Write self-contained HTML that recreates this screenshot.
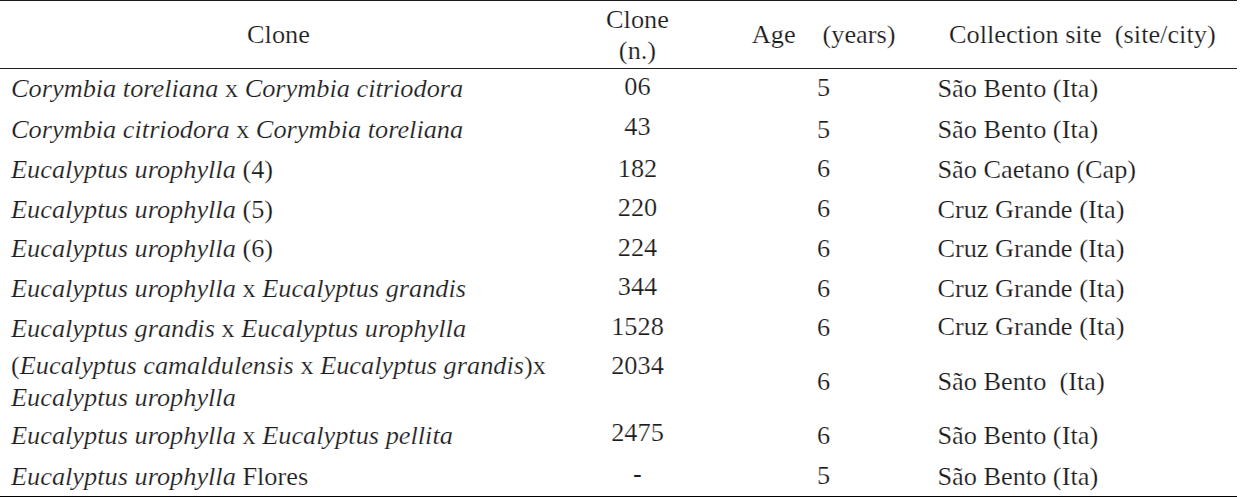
<!DOCTYPE html>
<html lang="en">
<head>
<meta charset="utf-8">
<title>Clones table</title>
<style>
html,body{margin:0;padding:0;background:#fff;}
#t{position:relative;width:1240px;height:497px;overflow:hidden;background:#fff;font-family:"Liberation Serif","Times New Roman",serif;font-size:26.32px;line-height:normal;color:#1c1c1c;-webkit-text-stroke:0.2px #fff;}
#t span{position:absolute;white-space:nowrap;transform-origin:0 23.45px;transform:scaleY(0.93);}
#t span.c{transform:translateX(-50%) scaleY(0.93);}
#t span.n{transform:translateX(-50%);}
#t div.ln{position:absolute;left:0;width:1237px;}
</style>
</head>
<body>
<div id="t">
<div class="ln" style="top:0px;height:1px;background:#1a1a1a"></div>
<div class="ln" style="top:68px;height:1px;background:#222"></div>
<div class="ln" style="top:496px;height:1px;background:#000"></div>
<span class="c" style="left:278.5px;top:19.55px">Clone</span>
<span class="c" style="left:637.5px;top:5.05px">Clone</span>
<span class="c" style="left:637.5px;top:35.85px">(n.)</span>
<span style="left:751.8px;top:19.55px">Age</span>
<span style="left:822.5px;top:19.55px">(years)</span>
<span class="c" style="left:1082.3px;top:19.55px">Collection site&nbsp; (site/city)</span>
<span style="left:11px;top:74.35px"><i>Corymbia toreliana</i> x <i>Corymbia citriodora</i></span>
<span class="c" style="left:637.5px;top:72.05px">06</span>
<span class="c" style="left:823.5px;top:73.45px">5</span>
<span style="left:937.4px;top:74.25px">São Bento (Ita)</span>
<span style="left:11px;top:115.25px"><i>Corymbia citriodora</i> x <i>Corymbia toreliana</i></span>
<span class="c" style="left:637.5px;top:111.95px">43</span>
<span class="c" style="left:823.5px;top:114.55px">5</span>
<span style="left:937.4px;top:114.95px">São Bento (Ita)</span>
<span style="left:11px;top:154.55px"><i>Eucalyptus urophylla</i> (4)</span>
<span class="c" style="left:637.5px;top:153.55px">182</span>
<span class="c" style="left:823.5px;top:154.15px">6</span>
<span style="left:937.4px;top:154.55px">São Caetano (Cap)</span>
<span style="left:11px;top:194.95px"><i>Eucalyptus urophylla</i> (5)</span>
<span class="c" style="left:637.5px;top:192.55px">220</span>
<span class="c" style="left:823.5px;top:194.15px">6</span>
<span style="left:937.4px;top:194.55px">Cruz Grande (Ita)</span>
<span style="left:11px;top:233.95px"><i>Eucalyptus urophylla</i> (6)</span>
<span class="c" style="left:637.5px;top:232.55px">224</span>
<span class="c" style="left:823.5px;top:233.55px">6</span>
<span style="left:937.4px;top:233.55px">Cruz Grande (Ita)</span>
<span style="left:11px;top:273.95px"><i>Eucalyptus urophylla</i> x <i>Eucalyptus grandis</i></span>
<span class="c" style="left:637.5px;top:271.55px">344</span>
<span class="c" style="left:823.5px;top:273.55px">6</span>
<span style="left:937.4px;top:273.95px">Cruz Grande (Ita)</span>
<span style="left:11px;top:313.65px"><i>Eucalyptus grandis</i> x <i>Eucalyptus urophylla</i></span>
<span class="c" style="left:637.5px;top:311.55px">1528</span>
<span class="c" style="left:823.5px;top:312.55px">6</span>
<span style="left:937.4px;top:312.35px">Cruz Grande (Ita)</span>
<span style="left:11px;top:351.05px">(<i>Eucalyptus camaldulensis</i> x <i>Eucalyptus grandis</i>)x</span>
<span class="c" style="left:637.5px;top:350.55px">2034</span>
<span class="c" style="left:823.5px;top:366.55px">6</span>
<span style="left:937.4px;top:366.55px">São Bento&nbsp; (Ita)</span>
<span style="left:11px;top:420.55px"><i>Eucalyptus urophylla</i> x <i>Eucalyptus pellita</i></span>
<span class="c" style="left:637.5px;top:417.95px">2475</span>
<span class="c" style="left:823.5px;top:420.55px">6</span>
<span style="left:937.4px;top:420.55px">São Bento (Ita)</span>
<span style="left:11px;top:461.55px"><i>Eucalyptus urophylla</i> Flores</span>
<span class="c" style="left:823.5px;top:460.95px">5</span>
<span style="left:937.4px;top:461.55px">São Bento (Ita)</span>
<span style="left:11px;top:382.95px"><i>Eucalyptus urophylla</i></span>
<span class="n" style="left:637.5px;top:458.55px">-</span>
</div>
</body>
</html>
